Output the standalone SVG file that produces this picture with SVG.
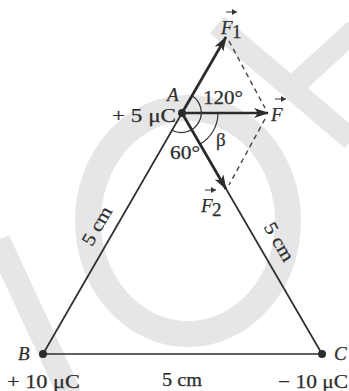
<svg xmlns="http://www.w3.org/2000/svg" width="349" height="391" viewBox="0 0 349 391">
<style>
.wm{fill:none;stroke:#e6e6e6}
.edge{stroke:#2e2e2e;stroke-width:1.7;fill:none}
.vec{stroke:#2b2b2b;stroke-width:2.7;fill:none}
.dash{stroke:#444;stroke-width:1.4;stroke-dasharray:5 4;fill:none}
.arc{stroke:#333;stroke-width:1.2;fill:none}
.t{font-family:"Liberation Serif","Times New Roman",serif;font-size:19px;fill:#2e2e2e;stroke:#2e2e2e;stroke-width:0.25}
.i{font-style:italic}
.acc{stroke:#333;stroke-width:1;fill:none}
.dot{fill:#2b2b2b}
</style>
<defs>
<marker id="ah" markerUnits="userSpaceOnUse" markerWidth="16" markerHeight="10" refX="14" refY="5" orient="auto">
<path d="M0,0 L15,5 L0,10 L4,5 z" fill="#2b2b2b"/>
</marker>
<marker id="sa" markerUnits="userSpaceOnUse" markerWidth="6" markerHeight="6" refX="5" refY="3" orient="auto">
<path d="M0,0 L5,3 L0,6 z" fill="#333"/>
</marker>
</defs>
<rect width="349" height="391" fill="#fff"/>
<g id="watermark">
<ellipse class="wm" cx="188" cy="221" rx="100" ry="113" stroke-width="26"/>
<line class="wm" x1="-2" y1="240" x2="70" y2="395" stroke-width="24"/>
<line class="wm" x1="217" y1="25" x2="352" y2="140" stroke-width="22"/>
<line class="wm" x1="298" y1="82" x2="355" y2="30" stroke-width="22"/>
</g>
<g id="connectors">
<line class="edge" x1="182" y1="113" x2="43" y2="354"/>
<line class="edge" x1="182" y1="113" x2="322" y2="354"/>
<line class="edge" x1="43" y1="354" x2="322" y2="354"/>
<line class="vec" x1="182" y1="113" x2="226" y2="37" marker-end="url(#ah)"/>
<line class="vec" x1="182" y1="113" x2="268" y2="113" marker-end="url(#ah)"/>
<line class="vec" x1="182" y1="113" x2="226" y2="189" marker-end="url(#ah)"/>
<line class="dash" x1="229" y1="41" x2="265" y2="108"/>
<line class="dash" x1="265" y1="119" x2="229" y2="185"/>
<path class="arc" d="M192,95.7 A20,20 0 0 1 172,130.3"/>
<path class="arc" d="M218,113 A36,36 0 0 1 200,144.2"/>
</g>
<g id="A">
<circle class="dot" cx="182" cy="113" r="4"/>
<text class="t i" x="167" y="101">A</text>
<text class="t" x="112" y="122" textLength="64" lengthAdjust="spacingAndGlyphs">+ 5 μC</text>
</g>
<g id="B">
<circle class="dot" cx="43" cy="354" r="4"/>
<text class="t i" x="18" y="360">B</text>
<text class="t" x="7" y="388" textLength="73" lengthAdjust="spacingAndGlyphs">+ 10 μC</text>
</g>
<g id="C">
<circle class="dot" cx="322" cy="354" r="4"/>
<text class="t i" x="334" y="360">C</text>
<text class="t" x="278" y="388" textLength="70" lengthAdjust="spacingAndGlyphs">− 10 μC</text>
</g>
<g id="labels">
<text class="t" x="203" y="104" textLength="40" lengthAdjust="spacingAndGlyphs">120°</text>
<text class="t" x="170" y="159" textLength="30" lengthAdjust="spacingAndGlyphs">60°</text>
<text class="t" x="216" y="146">β</text>
<text class="t" x="162" y="386" textLength="40" lengthAdjust="spacingAndGlyphs">5 cm</text>
<text class="t" transform="translate(97,226) rotate(-60)" x="-21" dy="6" textLength="42" lengthAdjust="spacingAndGlyphs">5 cm</text>
<text class="t" transform="translate(279,242) rotate(60)" x="-21" dy="6" textLength="42" lengthAdjust="spacingAndGlyphs">5 cm</text>
</g>
<g id="F1">
<text class="t i" x="221" y="34">F</text><text class="t" x="232" y="38" font-size="13">1</text>
<line class="acc" x1="226" y1="12" x2="237" y2="12" marker-end="url(#sa)"/>
</g>
<g id="F">
<text class="t i" x="271" y="121">F</text>
<line class="acc" x1="275" y1="99" x2="286" y2="99" marker-end="url(#sa)"/>
</g>
<g id="F2">
<text class="t i" x="201" y="212">F</text><text class="t" x="212" y="216" font-size="13">2</text>
<line class="acc" x1="205" y1="190" x2="216" y2="190" marker-end="url(#sa)"/>
</g>
</svg>
